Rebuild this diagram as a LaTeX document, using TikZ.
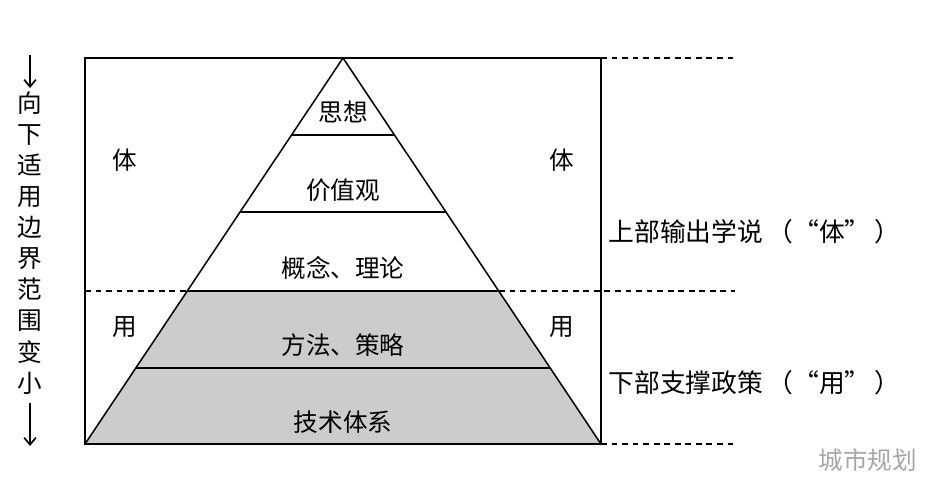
\documentclass[tikz,border=0pt]{standalone}
\usepackage{fontspec}
\setmainfont{Noto Sans CJK SC}
\usetikzlibrary{arrows.meta}
\tikzset{
  lbl/.style={font=\fontsize{21}{24}\selectfont, inner sep=0pt},
  dashln/.style={line width=1pt, dash pattern=on 5pt off 4pt},
}
\begin{document}
\begin{tikzpicture}[x=0.03cm,y=-0.03cm,line width=1pt]
			\useasboundingbox (0,0) rectangle (945,502);
			% frame and pyramid
			\draw (85,58) rectangle (601,444);
			\fill[gray!40] (85,444) -- (601,444) -- ({343+(291-58)*0.66839},291) -- ({343-(291-58)*0.66839},291) -- cycle;
			\draw[line width=1.3pt] (85,444) -- (343,58) -- (601,444);
			\foreach \y in {135,212,291,368}
				\draw[line width=1.3pt] ({343-(\y-58)*0.66839},\y) -- ({343+(\y-58)*0.66839},\y);
			\draw[line width=2.2pt] (85,444) -- (601,444);
			% dashed guides
			\draw[dashln] (601,58) -- (735,58);
			\draw[dashln] (601,444) -- (735,444);
			\draw[dashln] (85,291) -- (187,291);
			\draw[dashln] (499,291) -- (735,291);
			% layer labels
			\node[lbl] (sx) at (343,112) {思想};
			\node[lbl] (jz) at (343,190) {价值观};
			\node[lbl] (gn) at (343,268) {概念、理论};
			\node[lbl] (ff) at (343,345) {方法、策略};
			\node[lbl] (js) at (343,422) {技术体系};
			\node[lbl] (t1) at (125,160) {体};
			\node[lbl] (t2) at (562,160) {体};
			\node[lbl] (y1) at (125,327) {用};
			\node[lbl] (y2) at (562,327) {用};
			\node[lbl,anchor=west,font=\fontsize{22}{24}\selectfont] (up) at (608,232) {上部输出学说\,（“体”\,）};
			\node[lbl,anchor=west,font=\fontsize{22}{24}\selectfont] (dn) at (608,383) {下部支撑政策\,（“用”\,）};
			% left side
			\node[lbl,align=center,font=\fontsize{21}{26.5}\selectfont] (side) at (30,243) {向\\下\\适\\用\\边\\界\\范\\围\\变\\小};
			\draw[line width=1.4pt,-{Straight Barb[length=6pt,width=10pt]}] (30,55) -- (30,88);
			\draw[line width=1.4pt,-{Straight Barb[length=6pt,width=10pt]}] (30,403) -- (30,446);
			\node[lbl,text=gray!70,anchor=west] (wm) at (818,460) {城市规划};
		\end{tikzpicture}
\end{document}
